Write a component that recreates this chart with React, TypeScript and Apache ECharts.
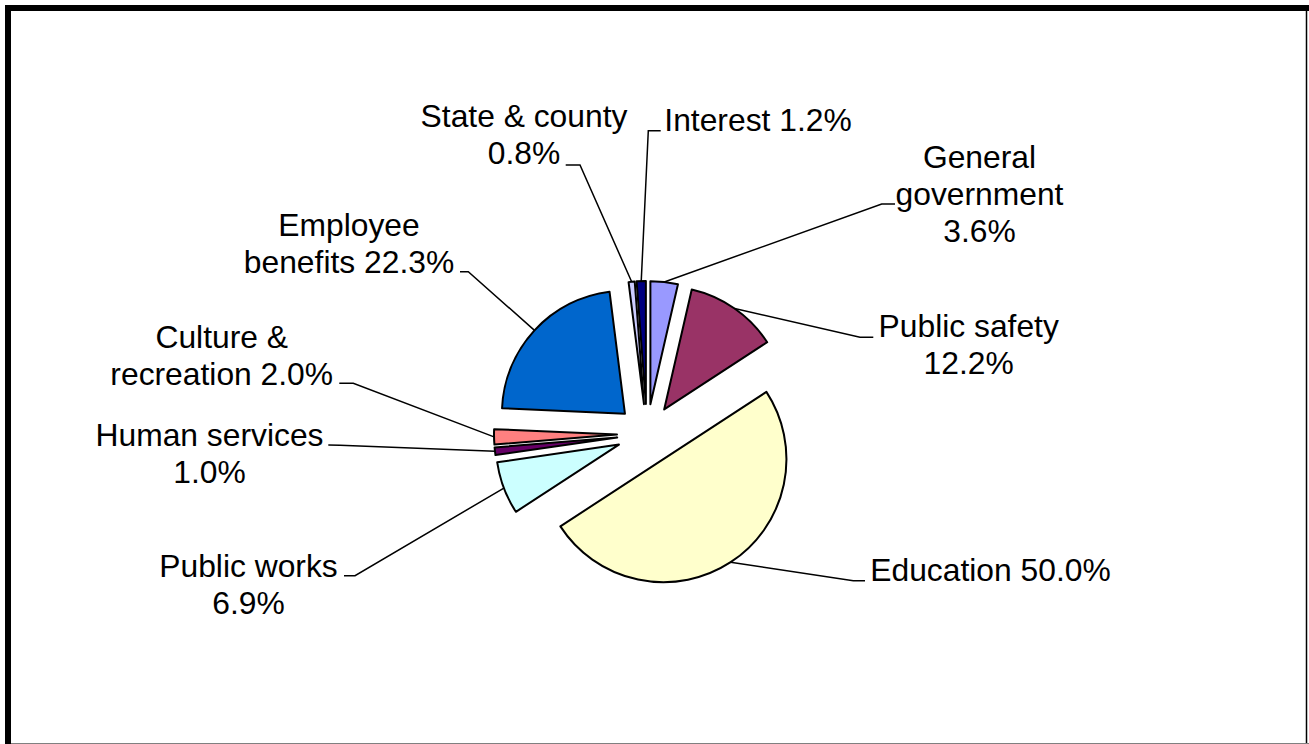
import React, { useEffect, useRef } from "react";
import * as echarts from "echarts";

// ---- Data ----
const categories = [
  "General government",
  "Public safety",
  "Education",
  "Public works",
  "Human services",
  "Culture & recreation",
  "Employee benefits",
  "State & county",
  "Interest",
];
const values = [3.6, 12.2, 50.0, 6.9, 1.0, 2.0, 22.3, 0.8, 1.2];
const colors = [
  "#9999FF",
  "#993366",
  "#FFFFCC",
  "#CCFFFF",
  "#660066",
  "#FF8080",
  "#0066CC",
  "#CCCCFF",
  "#000080",
];
// label text as wrapped in the reference (percentage appended from values)
const labelHeads = [
  "General\ngovernment\n",
  "Public safety\n",
  "Education ",
  "Public works\n",
  "Human services\n",
  "Culture &\nrecreation ",
  "Employee\nbenefits ",
  "State & county\n",
  "Interest ",
];

// ---- Layout (positions of labels and leader-line elbows) ----
const LABEL_LAYOUT: { x: number; y: number; line: number[][] }[] = [
  { x: 979.5, y: 193.6, line: [[881.7, 204], [895, 204]] },
  { x: 968.7, y: 344.1, line: [[860, 337.3], [873.3, 337.3]] },
  { x: 990.5, y: 569.8, line: [[853.3, 580.7], [865, 580.7]] },
  { x: 248.5, y: 584.1, line: [[355, 575.7], [344, 575.7]] },
  { x: 209.5, y: 453.8, line: [[340, 445.3], [328.3, 445]] },
  { x: 221.7, y: 355.1, line: [[353.3, 383.3], [339.3, 383.3]] },
  { x: 349, y: 243.3, line: [[468.3, 271.7], [460, 271.7]] },
  { x: 524, y: 134.5, line: [[580, 165], [565.7, 165]] },
  { x: 758, y: 119.8, line: [[648.3, 130.7], [660.7, 130.7]] },
];

const FONT = 'Arial, "Liberation Sans", sans-serif';

export default function App() {
  const ref = useRef<HTMLDivElement>(null);

  useEffect(() => {
    if (!ref.current) return;
    const chart = echarts.init(ref.current, null, { renderer: "svg" });

    const CX = 647;
    const CY = 434;
    const R = 123;
    const OFF = 30;

    const total = values.reduce((a, b) => a + b, 0);
    let acc = 0;
    const anchors = values.map((v) => {
      const mid = ((acc + v / 2) / total) * 2 * Math.PI;
      acc += v;
      const d = R + OFF;
      return [CX + d * Math.sin(mid), CY - d * Math.cos(mid)];
    });

    chart.setOption({
      animation: false,
      backgroundColor: "#ffffff",
      series: [
        {
          type: "pie",
          center: [CX, CY],
          radius: R,
          startAngle: 90,
          clockwise: true,
          selectedMode: "multiple",
          selectedOffset: OFF,
          avoidLabelOverlap: false,
          silent: true,
          label: { show: false },
          labelLine: { show: false },
          itemStyle: { borderColor: "#000", borderWidth: 2 },
          emphasis: { disabled: true },
          select: { itemStyle: { borderColor: "#000", borderWidth: 2 } },
          data: categories.map((name, i) => ({
            name,
            value: values[i],
            selected: true,
            itemStyle: { color: colors[i] },
            select: { itemStyle: { color: colors[i], borderColor: "#000", borderWidth: 2 } },
          })),
          z: 2,
        },
        {
          type: "pie",
          center: [CX, CY],
          radius: R,
          startAngle: 90,
          clockwise: true,
          avoidLabelOverlap: false,
          silent: true,
          itemStyle: { color: "rgba(0,0,0,0)", borderWidth: 0 },
          emphasis: { disabled: true },
          label: {
            show: true,
            position: "outside",
            formatter: (p: any) =>
              labelHeads[p.dataIndex] + values[p.dataIndex].toFixed(1) + "%",
            color: "#000",
            fontSize: 31.8,
            fontFamily: FONT,
            lineHeight: 37,
            align: "center",
          },
          labelLine: {
            show: true,
            length: 10,
            length2: 10,
            lineStyle: { color: "#000", width: 1.5 },
          },
          labelLayout: (p: any) => {
            const i = p.dataIndex;
            const L = LABEL_LAYOUT[i];
            return {
              x: L.x,
              y: L.y,
              align: "center",
              verticalAlign: "middle",
              labelLinePoints: [anchors[i], L.line[0], L.line[1]],
            };
          },
          data: categories.map((name, i) => ({ name, value: values[i] })),
          z: 3,
        },
      ],
      graphic: [
        {
          type: "rect",
          silent: true,
          z: 10,
          shape: { x: 8, y: 8, width: 1340, height: 790 },
          style: { fill: "none", stroke: "#000", lineWidth: 6 },
        },
        {
          type: "line",
          silent: true,
          z: 10,
          shape: { x1: 1306.5, y1: 8, x2: 1306.5, y2: 744 },
          style: { stroke: "#000", lineWidth: 1.5 },
        },
        {
          type: "line",
          silent: true,
          z: 10,
          shape: { x1: 11, y1: 743.5, x2: 1309, y2: 743.5 },
          style: { stroke: "#808080", lineWidth: 1 },
        },
      ],
    });

    return () => chart.dispose();
  }, []);

  return (
    <div
      ref={ref}
      style={{
        position: "fixed",
        left: 0,
        top: 0,
        width: 1309,
        height: 744,
        background: "#fff",
      }}
    />
  );
}
